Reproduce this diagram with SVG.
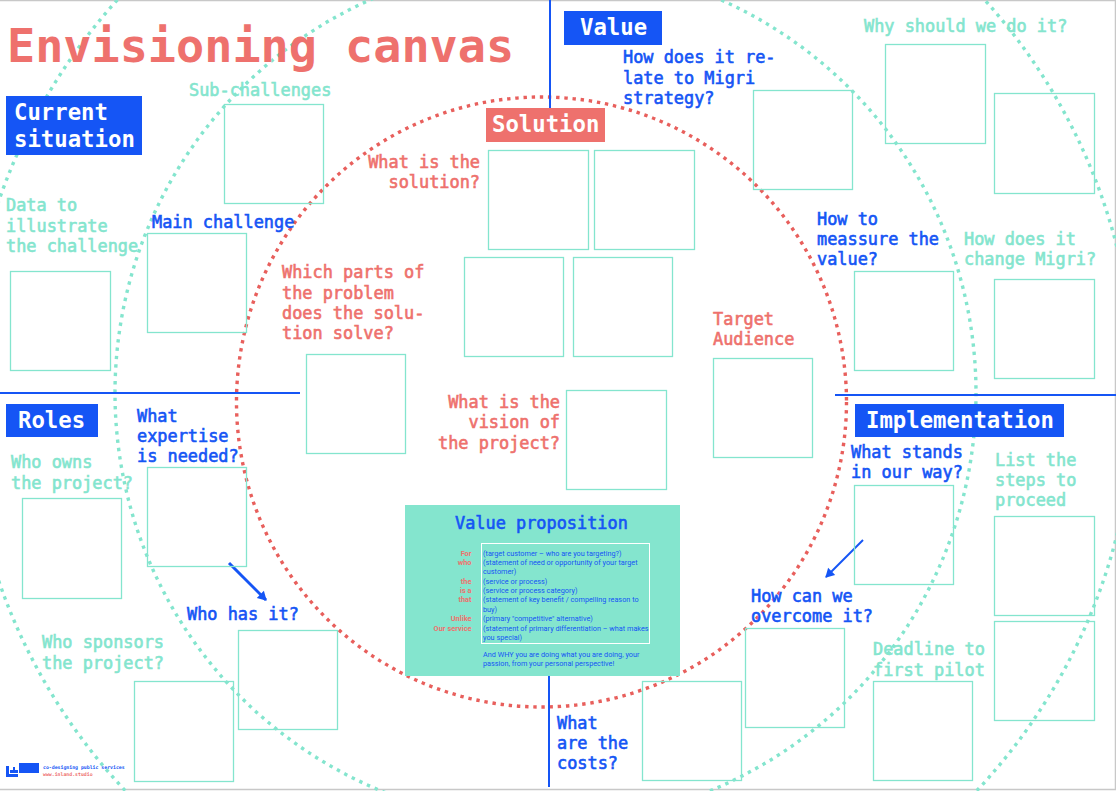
<svg xmlns="http://www.w3.org/2000/svg" width="1116" height="791" viewBox="0 0 1116 791">
<style>
text{font-family:"DejaVu Sans Mono","Liberation Mono",monospace;font-size:16.9px;font-weight:400;stroke-width:.6px}
.r{fill:#ee716d;stroke:#ee716d}.b{fill:#1555f5;stroke:#1555f5}.g{fill:#84e5ce;stroke:#84e5ce}.e{text-anchor:end}
.w{fill:#fff;stroke:none;font-size:22.3px;font-weight:700}
.box{fill:none;stroke:#84e5ce;stroke-width:1.3}
.dg{fill:none;stroke:#84e5ce;stroke-width:3.4;stroke-dasharray:3.4 5}
.dr{fill:none;stroke:#e85f5c;stroke-width:3.4;stroke-dasharray:3.4 4.8}
.ln{stroke:#1555f5;stroke-width:2;fill:none}
.s{font-family:Roboto,"Liberation Sans",sans-serif;font-size:7.3px;font-weight:400;stroke:none}
.sr{font-weight:700;font-size:7.4px}
.t{font-size:4.85px;stroke:none;font-weight:700}
</style>
<defs><marker id="ah" markerUnits="userSpaceOnUse" markerWidth="11" markerHeight="11" refX="9" refY="5.500" orient="auto"><path d="M1 .5L10 5.500L1 10.500Z" fill="#1555f5"/></marker></defs>
<rect width="1116" height="791" fill="#fff"/>
<g id="frame"><path d="M0 .5H1115.500V789.500H0" fill="none" stroke="#c8c8c8" stroke-width="1.5"/></g>
<g id="rings">
<circle class="dg" cx="551" cy="391" r="584"/>
<circle class="dg" cx="545.500" cy="393" r="430.500"/>
<circle class="dr" cx="541.500" cy="402" r="305"/>
</g>
<g id="connectors">
<path class="ln" d="M550 0V108M549 676V787M0 393H300M835 395H1116"/>
<path class="ln" style="stroke-width:3" d="M229 563L266 600" marker-end="url(#ah)"/>
<path class="ln" d="M863 540L826 577" marker-end="url(#ah)"/>
</g>
<g id="title"><text class="r" x="7" y="62" style="font-size:46.8px;font-weight:700;stroke:none">Envisioning canvas</text></g>
<g id="current-situation"><rect x="6" y="96" width="136" height="59" fill="#1555f5"/><text class="w" x="14" y="120">Current</text><text class="w" x="14" y="147">situation</text></g>
<g id="value-head"><rect x="564" y="11" width="98" height="34" fill="#1555f5"/><text class="w" x="580" y="35">Value</text></g>
<g id="solution-head"><rect x="486" y="108" width="119" height="34" fill="#ee716d"/><text class="w" x="492" y="132">Solution</text></g>
<g id="roles-head"><rect x="6" y="404" width="92" height="33" fill="#1555f5"/><text class="w" x="18" y="428">Roles</text></g>
<g id="implementation-head"><rect x="855" y="404" width="209" height="33" fill="#1555f5"/><text class="w" x="866" y="428">Implementation</text></g>

<g id="sub-challenges"><text class="g" x="189" y="96">Sub-challenges</text><rect class="box" x="224.500" y="104.500" width="99" height="99"/></g>
<g id="main-challenge"><text class="b" x="152" y="228">Main challenge</text><rect class="box" x="147.500" y="233.500" width="99" height="99"/></g>
<g id="data"><text class="g" x="6" y="211">Data to</text><text class="g" x="6" y="232">illustrate</text><text class="g" x="6" y="252">the challenge</text><rect class="box" x="10.500" y="271.500" width="100" height="99"/></g>
<g id="what-solution"><text class="r e" x="480" y="168">What is the</text><text class="r e" x="480" y="188">solution?</text><rect class="box" x="488.500" y="150.500" width="100" height="99"/><rect class="box" x="594.500" y="150.500" width="100" height="99"/><rect class="box" x="464.500" y="257.500" width="99" height="99"/><rect class="box" x="573.500" y="257.500" width="99" height="99"/></g>
<g id="which-parts"><text class="r" x="282" y="278">Which parts of</text><text class="r" x="282" y="299">the problem</text><text class="r" x="282" y="319">does the solu-</text><text class="r" x="282" y="339">tion solve?</text><rect class="box" x="306.500" y="354.500" width="99" height="99"/></g>
<g id="vision"><text class="r e" x="560" y="408">What is the</text><text class="r e" x="560" y="428">vision of</text><text class="r e" x="560" y="449">the project?</text><rect class="box" x="566.500" y="390.500" width="100" height="99"/></g>
<g id="target"><text class="r" x="713" y="325">Target</text><text class="r" x="713" y="345">Audience</text><rect class="box" x="713.500" y="358.500" width="99" height="99"/></g>
<g id="strategy"><text class="b" x="623" y="63">How does it re-</text><text class="b" x="623" y="84">late to Migri</text><text class="b" x="623" y="104">strategy?</text><rect class="box" x="753.500" y="90.500" width="99" height="99"/></g>
<g id="why"><text class="g" x="864" y="32">Why should we do it?</text><rect class="box" x="885.500" y="44.500" width="100" height="99"/><rect class="box" x="994.500" y="93.500" width="100" height="100"/></g>
<g id="measure"><text class="b" x="817" y="225">How to</text><text class="b" x="817" y="245">meassure the</text><text class="b" x="817" y="265">value?</text><rect class="box" x="854.500" y="271.500" width="99" height="99"/></g>
<g id="change"><text class="g" x="964" y="245">How does it</text><text class="g" x="964" y="265">change Migri?</text><rect class="box" x="994.500" y="279.500" width="100" height="99"/></g>
<g id="stands"><text class="b" x="851" y="458">What stands</text><text class="b" x="851" y="478">in our way?</text><rect class="box" x="854.500" y="485.500" width="99" height="99"/></g>
<g id="steps"><text class="g" x="995" y="466">List the</text><text class="g" x="995" y="486">steps to</text><text class="g" x="995" y="506">proceed</text><rect class="box" x="994.500" y="516.500" width="100" height="99"/><rect class="box" x="994.500" y="621.500" width="100" height="99"/></g>
<g id="overcome"><text class="b" x="751" y="602">How can we</text><text class="b" x="751" y="622">overcome it?</text><rect class="box" x="745.500" y="628.500" width="99" height="99"/></g>
<g id="deadline"><text class="g" x="873" y="655">Deadline to</text><text class="g" x="873" y="676">first pilot</text><rect class="box" x="873.500" y="681.500" width="99" height="99"/></g>
<g id="costs"><text class="b" x="557" y="729">What</text><text class="b" x="557" y="749">are the</text><text class="b" x="557" y="769">costs?</text><rect class="box" x="642.500" y="681.500" width="99" height="99"/></g>
<g id="owner"><text class="g" x="11" y="468">Who owns</text><text class="g" x="11" y="489">the project?</text><rect class="box" x="22.500" y="498.500" width="99" height="100"/></g>
<g id="expertise"><text class="b" x="137" y="422">What</text><text class="b" x="137" y="442">expertise</text><text class="b" x="137" y="462">is needed?</text><rect class="box" x="147.500" y="467.500" width="99" height="99"/></g>
<g id="has-it"><text class="b" x="187" y="620">Who has it?</text><rect class="box" x="238.500" y="630.500" width="99" height="99"/></g>
<g id="sponsor"><text class="g" x="42" y="648">Who sponsors</text><text class="g" x="42" y="669">the project?</text><rect class="box" x="134.500" y="681.500" width="99" height="100"/></g>

<g id="value-proposition"><rect x="405" y="505" width="275" height="171" fill="#84e5ce"/>
<text class="b" x="455" y="529">Value proposition</text>
<rect x="481.500" y="543.500" width="168" height="100" fill="none" stroke="#fff"/>
<text class="s sr r e" x="471.500" y="556">For</text><text class="s sr r e" x="471.500" y="565">who</text><text class="s sr r e" x="471.500" y="584">the</text><text class="s sr r e" x="471.500" y="593">is a</text><text class="s sr r e" x="471.500" y="602">that</text><text class="s sr r e" x="471.500" y="621">Unlike</text><text class="s sr r e" x="471.500" y="631">Our service</text>
<text class="s b" x="483" y="556">(target customer – who are you targeting?)</text>
<text class="s b" x="483" y="565">(statement of need or opportunity of your target</text>
<text class="s b" x="483" y="574">customer)</text>
<text class="s b" x="483" y="584">(service or process)</text>
<text class="s b" x="483" y="593">(service or process category)</text>
<text class="s b" x="483" y="602">(statement of key benefit / compelling reason to</text>
<text class="s b" x="483" y="612">buy)</text>
<text class="s b" x="483" y="621">(primary "competitive" alternative)</text>
<text class="s b" x="483" y="631">(statement of primary differentiation – what makes</text>
<text class="s b" x="483" y="640">you special)</text>
<text class="s b" x="483" y="657">And WHY you are doing what you are doing, your</text>
<text class="s b" x="483" y="666">passion, from your personal perspective!</text>
</g>
<g id="logo"><rect x="19" y="763" width="20" height="10" fill="#1555f5"/><path d="M6 766H9V774H18V777H6Z" fill="#1555f5"/><path d="M10 770H13V767H15V770H18V773H10Z" fill="#1555f5"/>
<text class="t b" x="43" y="769">co-designing public services</text><text class="t r" x="43" y="776">www.inland.studio</text></g>
</svg>
